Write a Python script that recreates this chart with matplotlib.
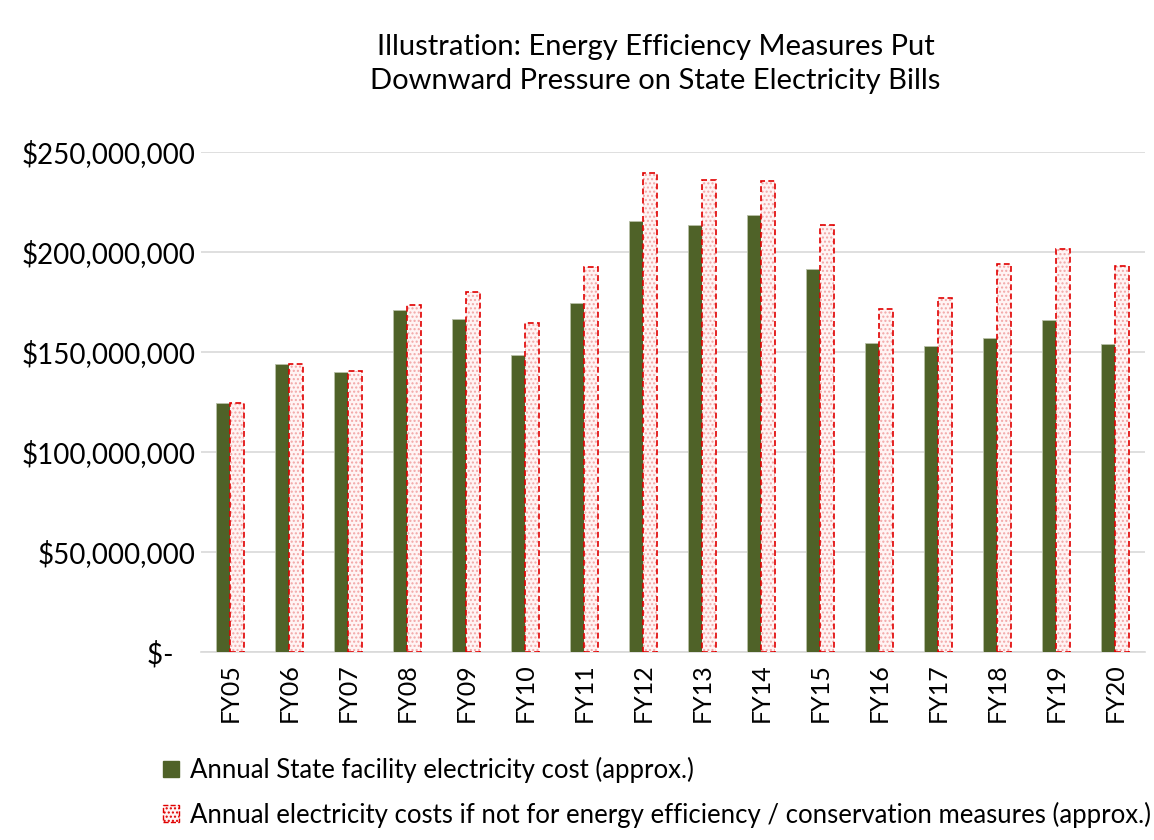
import matplotlib
matplotlib.use("Agg")
import matplotlib.pyplot as plt
import numpy as np
from matplotlib.patches import Patch
from matplotlib.ticker import FuncFormatter

plt.rcParams["font.family"] = ["Lato", "DejaVu Sans"]

years = ["FY05", "FY06", "FY07", "FY08", "FY09", "FY10", "FY11", "FY12",
         "FY13", "FY14", "FY15", "FY16", "FY17", "FY18", "FY19", "FY20"]
actual_cost = [124.5, 143.8, 140.2, 171.0, 166.7, 148.5, 174.6, 215.5,
               213.7, 218.5, 191.5, 154.7, 153.0, 156.8, 165.8, 154.0]
cost_without_ee = [124.6, 144.0, 140.6, 173.7, 179.9, 164.5, 192.5, 239.3,
                   236.2, 235.3, 213.3, 171.5, 176.8, 194.0, 201.3, 193.0]

green = "#4F6228"
red = "#E00000"
pink = "#F2A6A6"

fig = plt.figure(figsize=(11.54, 8.4), dpi=100)
ax = fig.add_axes([0.174, 0.224, 0.818, 0.595])

x = np.arange(len(years))
w = 0.24
a = np.array(actual_cost) * 1e6
b = np.array(cost_without_ee) * 1e6

ax.bar(x - w / 2, a, w, color=green, edgecolor="#B8C0A8", linewidth=0.6, zorder=3)
ax.bar(x + w / 2, b, w, color="#FFF4F4", edgecolor=pink, hatch="....",
       linewidth=0, zorder=3)
ax.bar(x + w / 2, b, w, fill=False, edgecolor=red, linestyle=(0, (3.5, 2)),
       linewidth=1.2, zorder=4)

ax.set_xlim(-0.5, len(years) - 0.5)
ax.set_ylim(0, 250e6)
ax.set_yticks(np.arange(0, 250e6 + 1, 50e6))


def money(v, pos):
    if v == 0:
        return "$-   "
    return f"${v:,.0f}"


ax.yaxis.set_major_formatter(FuncFormatter(money))
ax.set_xticks(x)
ax.set_xticklabels(years, rotation=90)
ax.tick_params(axis="both", length=0, colors="#000000")
ax.tick_params(axis="y", labelsize=20, pad=4)
ax.tick_params(axis="x", labelsize=18, pad=8)
ax.grid(axis="y", color="#D9D9D9", linewidth=1.2, zorder=0)
for s in ["top", "right", "left"]:
    ax.spines[s].set_visible(False)
ax.spines["bottom"].set_color("#D9D9D9")
ax.spines["bottom"].set_linewidth(1.2)

fig.text(0.568, 0.96, "Illustration: Energy Efficiency Measures Put\nDownward Pressure on State Electricity Bills",
         ha="center", va="top", fontsize=21, linespacing=1.4)

handles = [
    Patch(facecolor=green, edgecolor=green),
    Patch(facecolor="#FFF4F4", edgecolor=red, hatch="....", linestyle="--"),
]
labels = [
    "Annual State facility electricity cost (approx.)",
    "Annual electricity costs if not for energy efficiency / conservation measures (approx.)",
]
fig.legend(handles, labels, loc="upper left", bbox_to_anchor=(0.141, 0.099),
           borderaxespad=0, borderpad=0, frameon=False, fontsize=18.5,
           handlelength=0.62, handleheight=0.62, handletextpad=0.45,
           labelspacing=0.72)

fig.savefig("out.png", dpi=100)
